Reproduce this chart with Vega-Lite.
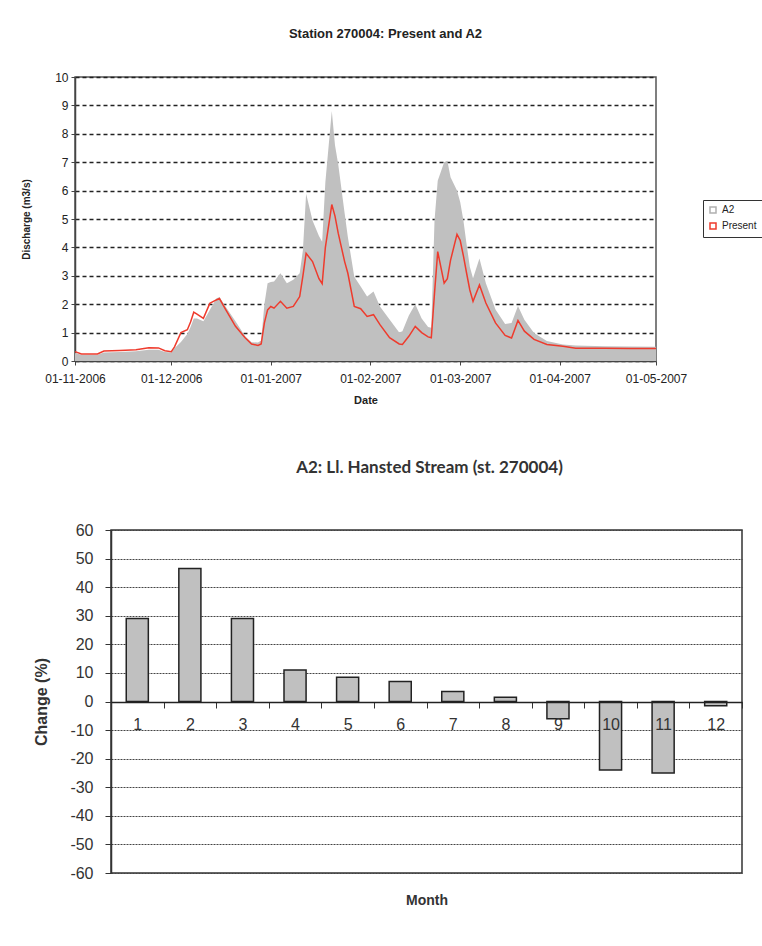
{
  "$schema": "https://vega.github.io/schema/vega-lite/v6.json",
  "background": "white",
  "padding": {"left": 20, "top": 27, "right": 0, "bottom": 0},
  "spacing": 52,
  "config": {"font": "Liberation Sans", "view": {"stroke": null}},
  "datasets": {
    "discharge": [
      {"date": "2006-11-01", "Present": 0.33, "A2": 0.28},
      {"date": "2006-11-03", "Present": 0.25, "A2": 0.22},
      {"date": "2006-11-08", "Present": 0.25, "A2": 0.22},
      {"date": "2006-11-10", "Present": 0.35, "A2": 0.30},
      {"date": "2006-11-15", "Present": 0.37, "A2": 0.32},
      {"date": "2006-11-20", "Present": 0.40, "A2": 0.34},
      {"date": "2006-11-24", "Present": 0.47, "A2": 0.40},
      {"date": "2006-11-27", "Present": 0.46, "A2": 0.40},
      {"date": "2006-11-29", "Present": 0.36, "A2": 0.32},
      {"date": "2006-12-01", "Present": 0.33, "A2": 0.30},
      {"date": "2006-12-02", "Present": 0.50, "A2": 0.45},
      {"date": "2006-12-04", "Present": 1.00, "A2": 0.67},
      {"date": "2006-12-06", "Present": 1.10, "A2": 0.95},
      {"date": "2006-12-07", "Present": 1.37, "A2": 1.20},
      {"date": "2006-12-08", "Present": 1.72, "A2": 1.50},
      {"date": "2006-12-09", "Present": 1.65, "A2": 1.50},
      {"date": "2006-12-11", "Present": 1.50, "A2": 1.40},
      {"date": "2006-12-13", "Present": 2.03, "A2": 1.80},
      {"date": "2006-12-15", "Present": 2.15, "A2": 2.20},
      {"date": "2006-12-16", "Present": 2.20, "A2": 2.25},
      {"date": "2006-12-18", "Present": 1.80, "A2": 1.90},
      {"date": "2006-12-21", "Present": 1.22, "A2": 1.40},
      {"date": "2006-12-24", "Present": 0.82, "A2": 0.87},
      {"date": "2006-12-26", "Present": 0.60, "A2": 0.66},
      {"date": "2006-12-28", "Present": 0.55, "A2": 0.65},
      {"date": "2006-12-29", "Present": 0.60, "A2": 0.72},
      {"date": "2006-12-30", "Present": 1.34, "A2": 2.00},
      {"date": "2006-12-31", "Present": 1.80, "A2": 2.74},
      {"date": "2007-01-01", "Present": 1.92, "A2": 2.78},
      {"date": "2007-01-02", "Present": 1.86, "A2": 2.80},
      {"date": "2007-01-04", "Present": 2.10, "A2": 3.09},
      {"date": "2007-01-06", "Present": 1.86, "A2": 2.74},
      {"date": "2007-01-08", "Present": 1.92, "A2": 2.86},
      {"date": "2007-01-10", "Present": 2.27, "A2": 3.09},
      {"date": "2007-01-11", "Present": 3.00, "A2": 3.90},
      {"date": "2007-01-12", "Present": 3.79, "A2": 5.89},
      {"date": "2007-01-14", "Present": 3.50, "A2": 4.95},
      {"date": "2007-01-16", "Present": 2.90, "A2": 4.40},
      {"date": "2007-01-17", "Present": 2.72, "A2": 4.20},
      {"date": "2007-01-18", "Present": 4.00, "A2": 6.30},
      {"date": "2007-01-20", "Present": 5.51, "A2": 8.80},
      {"date": "2007-01-21", "Present": 5.10, "A2": 7.60},
      {"date": "2007-01-22", "Present": 4.50, "A2": 6.93},
      {"date": "2007-01-24", "Present": 3.50, "A2": 5.20},
      {"date": "2007-01-25", "Present": 3.09, "A2": 4.37},
      {"date": "2007-01-27", "Present": 1.92, "A2": 2.97},
      {"date": "2007-01-29", "Present": 1.84, "A2": 2.62},
      {"date": "2007-01-31", "Present": 1.57, "A2": 2.27},
      {"date": "2007-02-02", "Present": 1.63, "A2": 2.45},
      {"date": "2007-02-04", "Present": 1.28, "A2": 1.92},
      {"date": "2007-02-07", "Present": 0.82, "A2": 1.46},
      {"date": "2007-02-10", "Present": 0.60, "A2": 1.00},
      {"date": "2007-02-11", "Present": 0.58, "A2": 1.05},
      {"date": "2007-02-13", "Present": 0.87, "A2": 1.60},
      {"date": "2007-02-15", "Present": 1.22, "A2": 2.00},
      {"date": "2007-02-17", "Present": 1.00, "A2": 1.50},
      {"date": "2007-02-19", "Present": 0.85, "A2": 1.20},
      {"date": "2007-02-20", "Present": 0.82, "A2": 1.17},
      {"date": "2007-02-21", "Present": 2.39, "A2": 4.95},
      {"date": "2007-02-22", "Present": 3.85, "A2": 6.35},
      {"date": "2007-02-24", "Present": 2.74, "A2": 7.00},
      {"date": "2007-02-25", "Present": 2.90, "A2": 7.05},
      {"date": "2007-02-26", "Present": 3.55, "A2": 6.47},
      {"date": "2007-02-28", "Present": 4.46, "A2": 6.00},
      {"date": "2007-03-01", "Present": 4.25, "A2": 5.60},
      {"date": "2007-03-02", "Present": 3.70, "A2": 4.95},
      {"date": "2007-03-03", "Present": 3.09, "A2": 4.10},
      {"date": "2007-03-04", "Present": 2.50, "A2": 3.32},
      {"date": "2007-03-05", "Present": 2.10, "A2": 2.91},
      {"date": "2007-03-07", "Present": 2.68, "A2": 3.61},
      {"date": "2007-03-09", "Present": 2.04, "A2": 2.74},
      {"date": "2007-03-12", "Present": 1.34, "A2": 1.81},
      {"date": "2007-03-15", "Present": 0.90, "A2": 1.30},
      {"date": "2007-03-17", "Present": 0.81, "A2": 1.34},
      {"date": "2007-03-19", "Present": 1.43, "A2": 1.94},
      {"date": "2007-03-21", "Present": 1.05, "A2": 1.45},
      {"date": "2007-03-24", "Present": 0.76, "A2": 0.99},
      {"date": "2007-03-28", "Present": 0.58, "A2": 0.70},
      {"date": "2007-04-02", "Present": 0.52, "A2": 0.58},
      {"date": "2007-04-06", "Present": 0.45, "A2": 0.55},
      {"date": "2007-04-15", "Present": 0.45, "A2": 0.52},
      {"date": "2007-04-23", "Present": 0.44, "A2": 0.51},
      {"date": "2007-05-01", "Present": 0.44, "A2": 0.50}
    ],
    "change": [
      {"month": 1, "change": 29},
      {"month": 2, "change": 46.5},
      {"month": 3, "change": 29},
      {"month": 4, "change": 11},
      {"month": 5, "change": 8.5},
      {"month": 6, "change": 7},
      {"month": 7, "change": 3.5},
      {"month": 8, "change": 1.5},
      {"month": 9, "change": -6},
      {"month": 10, "change": -24},
      {"month": 11, "change": -25},
      {"month": 12, "change": -1.5}
    ]
  },
  "vconcat": [
    {
      "width": 581,
      "height": 284,
      "title": {"text": "Station 270004: Present and A2", "font": "Liberation Sans", "fontSize": 13, "fontWeight": "bold", "color": "#222", "offset": 30, "dx": 20},
      "data": {"name": "discharge"},
      "transform": [{"fold": ["A2", "Present"], "as": ["series", "q"]}],
      "view": {"stroke": "#555", "strokeWidth": 1.5},
      "encoding": {
        "x": {
          "field": "date", "type": "temporal",
          "scale": {"type": "utc", "domain": [{"year": 2006, "month": 11, "date": 1, "utc": true}, {"year": 2007, "month": 5, "date": 1, "utc": true}]},
          "axis": {
            "title": "Date", "titleFontSize": 11, "titleFontWeight": "bold", "titleColor": "#222", "titlePadding": 10,
            "format": "%d-%m-%Y", "labelFontSize": 12, "labelColor": "#222", "labelPadding": 8, "labelFlush": false, "labelOverlap": false,
            "values": [
              {"year": 2006, "month": 11, "date": 1, "utc": true},
              {"year": 2006, "month": 12, "date": 1, "utc": true},
              {"year": 2007, "month": 1, "date": 1, "utc": true},
              {"year": 2007, "month": 2, "date": 1, "utc": true},
              {"year": 2007, "month": 3, "date": 1, "utc": true},
              {"year": 2007, "month": 4, "date": 1, "utc": true},
              {"year": 2007, "month": 5, "date": 1, "utc": true}
            ],
            "grid": false, "tickSize": 4, "tickColor": "#444", "domainColor": "#444", "domainWidth": 1.5
          }
        },
        "y": {
          "field": "q", "type": "quantitative",
          "scale": {"domain": [0, 10], "nice": false},
          "axis": {
            "title": "Discharge (m3/s)", "titleFontSize": 10, "titleFontWeight": "bold", "titleColor": "#222", "titlePadding": 23,
            "values": [0, 1, 2, 3, 4, 5, 6, 7, 8, 9, 10], "labelFontSize": 12, "labelColor": "#222", "labelPadding": 3,
            "tickSize": 4, "tickColor": "#444", "domainColor": "#444", "domainWidth": 1.5,
            "grid": true, "gridColor": "#222", "gridDash": [4, 3], "gridWidth": 1.3
          }
        }
      },
      "layer": [
        {"transform": [{"filter": "datum.series === 'A2'"}], "mark": {"type": "area", "color": "#c0c0c0", "opacity": 1}},
        {
          "transform": [{"filter": "datum.series === 'Present'"}],
          "mark": {"type": "line", "strokeWidth": 1.5},
          "encoding": {
            "stroke": {
              "field": "series", "type": "nominal",
              "scale": {"domain": ["A2", "Present"], "range": ["#b0b0b0", "#ee3b2d"]},
              "legend": {
                "title": null, "orient": "none", "legendX": 628, "legendY": 123,
                "symbolType": "square", "symbolSize": 36, "symbolStrokeWidth": 1.5, "labelFontSize": 10, "labelColor": "#222",
                "strokeColor": "#333", "padding": 5, "rowPadding": 4
              }
            }
          }
        }
      ]
    },
    {
      "hconcat": [
        {"width": 36, "height": 1, "data": {"values": []}, "mark": "point", "view": {"stroke": null}},
        {
          "width": 631,
          "height": 343,
          "title": {"text": "A2: Ll. Hansted  Stream (st. 270004)", "font": "Lato", "fontSize": 17, "fontWeight": "bold", "color": "#333", "offset": 45, "dx": 3},
          "data": {"name": "change"},
          "view": {"stroke": "#333", "strokeWidth": 1.5},
          "mark": {"type": "bar", "color": "#c0c0c0", "stroke": "#222", "strokeWidth": 1.5, "width": {"band": 0.42}},
          "encoding": {
            "x": {
              "field": "month", "type": "ordinal",
              "scale": {"paddingInner": 0, "paddingOuter": 0},
              "axis": {
                "title": "Month", "titleFontSize": 14, "titleFontWeight": "bold", "titleColor": "#333", "titleY": 191, "titleBaseline": "top",
                "offset": -171, "zindex": 1, "tickBand": "extent", "labelAngle": 0, "labelFontSize": 16, "labelColor": "#333", "labelPadding": 8,
                "labelOverlap": false, "labelBound": false,
                "tickSize": 6, "tickColor": "#333", "domainColor": "#222", "domainWidth": 1.5
              }
            },
            "y": {
              "field": "change", "type": "quantitative",
              "scale": {"domain": [-60, 60], "nice": false},
              "axis": {
                "title": "Change (%)", "titleFontSize": 16, "titleFontWeight": "bold", "titleColor": "#333", "titlePadding": 20,
                "values": [-60, -50, -40, -30, -20, -10, 0, 10, 20, 30, 40, 50, 60], "labelExpr": "'' + datum.value",
                "labelFontSize": 16, "labelColor": "#333", "labelPadding": 12,
                "tickSize": 6, "tickColor": "#333", "domainColor": "#333", "domainWidth": 1.5,
                "grid": true, "gridColor": "#444", "gridDash": [2, 1], "gridWidth": 1
              }
            }
          }
        }
      ],
      "spacing": 0,
      "bounds": "flush"
    }
  ]
}
